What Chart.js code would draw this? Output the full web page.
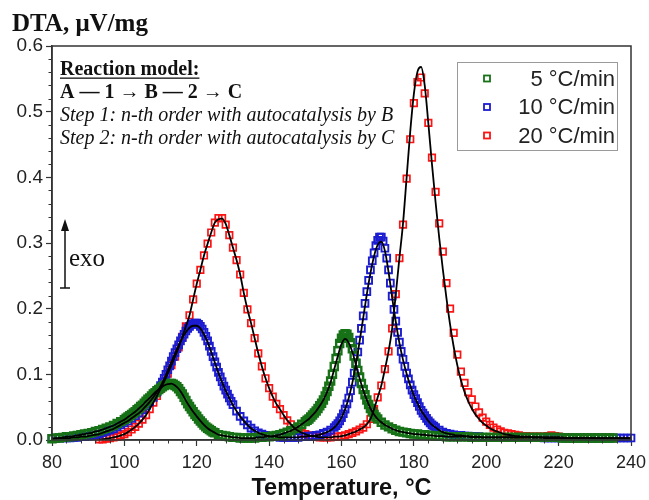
<!DOCTYPE html>
<html>
<head>
<meta charset="utf-8">
<script src="https://cdn.jsdelivr.net/npm/chart.js@4.4.1/dist/chart.umd.min.js"></script>
<style>
  html, body { margin: 0; padding: 0; background: #fff; }
  #wrap { width: 649px; height: 500px; }
</style>
</head>
<body>
<div id="wrap"><canvas id="dtaChart"></canvas></div>
<script>
// Temperature grid for the fitted curves (deg C)
const fitT = [
  80, 81, 82, 83, 84, 85, 86, 87, 88, 89,
  90, 91, 92, 93, 94, 95, 96, 97, 98, 99,
  100, 101, 102, 103, 104, 105, 106, 107, 108, 109,
  110, 111, 112, 113, 114, 115, 116, 117, 118, 119,
  120, 121, 122, 123, 124, 125, 126, 127, 128, 129,
  130, 131, 132, 133, 134, 135, 136, 137, 138, 139,
  140, 141, 142, 143, 144, 145, 146, 147, 148, 149,
  150, 151, 152, 153, 154, 155, 156, 157, 158, 159,
  160, 161, 162, 163, 164, 165, 166, 167, 168, 169,
  170, 171, 172, 173, 174, 175, 176, 177, 178, 179,
  180, 181, 182, 183, 184, 185, 186, 187, 188, 189,
  190, 191, 192, 193, 194, 195, 196, 197, 198, 199,
  200, 201, 202, 203, 204, 205, 206, 207, 208, 209,
  210, 211, 212, 213, 214, 215, 216, 217, 218, 219,
  220, 221, 222, 223, 224, 225, 226, 227, 228, 229,
  230, 231, 232, 233, 234, 235, 236, 237, 238, 239,
  240
];

// 5 C/min measured points
const greenT = [
  80, 81, 82, 83, 84, 85, 86, 87, 88, 89,
  90, 91, 92, 93, 94, 95, 96, 97, 98, 99,
  100, 100.5, 101, 101.5, 102, 102.5, 103, 103.5, 104, 104.5,
  105, 105.5, 106, 106.5, 107, 107.5, 108, 108.5, 109, 109.5,
  110, 110.5, 111, 111.5, 112, 112.5, 113, 113.5, 114, 114.5,
  115, 115.5, 116, 116.5, 117, 117.5, 118, 118.5, 119, 119.5,
  120, 120.5, 121, 121.5, 122, 122.5, 123, 123.5, 124, 124.5,
  125,
  126, 127, 128, 129, 130, 131, 132, 133, 134, 135,
  136, 137, 138, 139, 140, 141, 142, 143, 144, 145,
  146, 147, 148, 149, 150,
  150.5, 151, 151.5, 152, 152.5, 153, 153.5, 154, 154.5, 155,
  155.5, 156, 156.5, 157, 157.5, 158, 158.5, 159, 159.5, 160,
  160.5, 161, 161.5, 162, 162.5, 163, 163.5, 164, 164.5, 165,
  165.5, 166, 166.5, 167, 167.5, 168, 168.5, 169, 169.5, 170,
  171, 172, 173, 174, 175, 176, 177, 178, 179, 180,
  181, 182, 183, 184, 185, 186, 187, 188, 189, 190,
  191, 192, 193, 194, 195, 196, 197, 198, 199, 200,
  201, 202, 203, 204, 205, 206, 207, 208, 209, 210,
  211, 212, 213, 214, 215, 216, 217, 218, 219, 220,
  221, 222, 223, 224, 225, 226, 227, 228, 229, 230,
  231, 232, 233, 234, 235
];
const greenV = [
  0.002, 0.003, 0.003, 0.004, 0.005, 0.005, 0.006, 0.007, 0.008, 0.009,
  0.010, 0.011, 0.013, 0.014, 0.016, 0.018, 0.020, 0.022, 0.025, 0.028,
  0.031, 0.033, 0.035, 0.037, 0.039, 0.041, 0.043, 0.046, 0.048, 0.051,
  0.053, 0.056, 0.059, 0.062, 0.064, 0.067, 0.070, 0.072, 0.075, 0.077,
  0.079, 0.081, 0.083, 0.084, 0.085, 0.086, 0.086, 0.085, 0.083, 0.081,
  0.078, 0.074, 0.070, 0.065, 0.060, 0.055, 0.051, 0.047, 0.043, 0.039,
  0.036, 0.032, 0.029, 0.026, 0.023, 0.020, 0.018, 0.016, 0.014, 0.012,
  0.011,
  0.008, 0.007, 0.006, 0.005, 0.004, 0.004, 0.003, 0.003, 0.003, 0.003,
  0.003, 0.004, 0.004, 0.005, 0.005, 0.006, 0.007, 0.008, 0.010, 0.012,
  0.014, 0.017, 0.020, 0.024, 0.028,
  0.030, 0.032, 0.035, 0.038, 0.041, 0.044, 0.048, 0.052, 0.056, 0.061,
  0.067, 0.074, 0.082, 0.090, 0.100, 0.112, 0.124, 0.136, 0.147, 0.155,
  0.160, 0.162, 0.161, 0.156, 0.148, 0.139, 0.128, 0.117, 0.106, 0.096,
  0.086, 0.077, 0.069, 0.061, 0.054, 0.048, 0.043, 0.039, 0.035, 0.032,
  0.027, 0.023, 0.020, 0.017, 0.015, 0.013, 0.012, 0.011, 0.010, 0.009,
  0.009, 0.008, 0.008, 0.007, 0.007, 0.006, 0.006, 0.006, 0.005, 0.005,
  0.005, 0.005, 0.005, 0.005, 0.005, 0.004, 0.004, 0.004, 0.004, 0.004,
  0.004, 0.004, 0.004, 0.004, 0.004, 0.004, 0.004, 0.004, 0.004, 0.004,
  0.004, 0.004, 0.004, 0.004, 0.004, 0.004, 0.004, 0.004, 0.004, 0.004,
  0.003, 0.003, 0.003, 0.003, 0.003, 0.003, 0.003, 0.003, 0.003, 0.003,
  0.003, 0.003, 0.003, 0.003, 0.003
];

// 10 C/min measured points
const blueT = [
  80, 81, 82, 83, 84, 85, 86, 87, 88, 89,
  90, 91, 92, 93, 94, 95, 96, 97, 98, 99,
  100, 101, 102, 103, 104, 105, 106, 107, 108, 109,
  110, 110.5, 111, 111.5, 112, 112.5, 113, 113.5, 114, 114.5,
  115, 115.5, 116, 116.5, 117, 117.5, 118, 118.5, 119, 119.5,
  120, 120.5, 121, 121.5, 122, 122.5, 123, 123.5, 124, 124.5,
  125, 125.5, 126, 126.5, 127, 127.5, 128, 128.5, 129, 129.5,
  130,
  131, 132, 133, 134, 135, 136, 137, 138, 139, 140,
  141, 142, 143, 144, 145, 146, 147, 148, 149, 150,
  151, 152, 153, 154, 155, 156, 157,
  158, 158.5, 159, 159.5, 160, 160.5, 161, 161.5, 162, 162.5,
  163, 163.5, 164, 164.5, 165, 165.5, 166, 166.5, 167, 167.5,
  168, 168.5, 169, 169.5, 170, 170.5, 171, 171.5, 172, 172.5,
  173, 173.5, 174, 174.5, 175, 175.5, 176, 176.5, 177, 177.5,
  178, 178.5, 179, 179.5, 180, 180.5, 181, 181.5, 182, 182.5,
  183, 183.5, 184, 184.5, 185, 185.5, 186,
  187, 188, 189, 190, 191, 192, 193, 194, 195, 196,
  197, 198, 199, 200, 201, 202, 203, 204, 205, 206,
  207, 208, 209, 210, 211, 212, 213, 214, 215, 216,
  217, 218, 219, 220, 221, 222, 223, 224, 225, 226,
  227, 228, 229, 230, 231, 232, 233, 234, 235, 236,
  237, 238, 239, 240
];
const blueV = [
  0.002, 0.002, 0.003, 0.003, 0.003, 0.003, 0.004, 0.004, 0.005, 0.005,
  0.006, 0.007, 0.008, 0.009, 0.011, 0.013, 0.015, 0.017, 0.020, 0.023,
  0.026, 0.029, 0.033, 0.037, 0.041, 0.046, 0.052, 0.058, 0.065, 0.073,
  0.083, 0.088, 0.094, 0.100, 0.107, 0.113, 0.120, 0.127, 0.133, 0.139,
  0.145, 0.151, 0.156, 0.161, 0.166, 0.170, 0.173, 0.176, 0.177, 0.178,
  0.178, 0.176, 0.173, 0.169, 0.164, 0.158, 0.151, 0.143, 0.135, 0.127,
  0.119, 0.111, 0.103, 0.096, 0.089, 0.082, 0.076, 0.070, 0.064, 0.059,
  0.054,
  0.044, 0.036, 0.029, 0.023, 0.018, 0.014, 0.011, 0.009, 0.007, 0.006,
  0.005, 0.005, 0.004, 0.004, 0.004, 0.004, 0.004, 0.004, 0.005, 0.005,
  0.006, 0.006, 0.007, 0.008, 0.010, 0.012, 0.015,
  0.019, 0.022, 0.025, 0.029, 0.034, 0.040, 0.047, 0.055, 0.064, 0.075,
  0.088, 0.102, 0.117, 0.134, 0.152, 0.170, 0.189, 0.208, 0.226, 0.243,
  0.259, 0.273, 0.285, 0.296, 0.304, 0.309, 0.309, 0.303, 0.292, 0.277,
  0.259, 0.239, 0.219, 0.199, 0.181, 0.164, 0.149, 0.135, 0.123, 0.112,
  0.102, 0.093, 0.084, 0.076, 0.069, 0.063, 0.057, 0.051, 0.045, 0.041,
  0.037, 0.033, 0.029, 0.026, 0.023, 0.021, 0.019,
  0.015, 0.012, 0.010, 0.009, 0.008, 0.007, 0.007, 0.006, 0.006, 0.005,
  0.005, 0.005, 0.004, 0.004, 0.004, 0.004, 0.004, 0.004, 0.004, 0.004,
  0.004, 0.004, 0.004, 0.004, 0.004, 0.004, 0.004, 0.004, 0.004, 0.003,
  0.003, 0.003, 0.003, 0.003, 0.003, 0.003, 0.003, 0.003, 0.003, 0.003,
  0.003, 0.003, 0.003, 0.003, 0.003, 0.003, 0.003, 0.003, 0.003, 0.003,
  0.003, 0.003, 0.003, 0.003
];

// 20 C/min measured points, on the fitT grid (null = no reading)
const redV = [
  null, null, null, null, null, null, null, null, null, null,
  null, null, null, 0.001, 0.001, 0.002, 0.003, 0.004, 0.005, 0.007,
  0.009, 0.012, 0.016, 0.020, 0.025, 0.031, 0.038, 0.047, 0.057, 0.067,
  0.078, 0.089, 0.101, 0.114, 0.127, 0.141, 0.157, 0.173, 0.190, 0.214,
  0.238, 0.259, 0.281, 0.299, 0.316, 0.331, 0.338, 0.338, 0.328, 0.312,
  0.293, 0.274, 0.252, 0.224, 0.199, 0.178, 0.155, 0.132, 0.112, 0.094,
  0.079, 0.066, 0.055, 0.047, 0.038, 0.030, 0.024, 0.018, 0.014, 0.011,
  0.009, 0.007, 0.006, 0.005, 0.004, 0.004, 0.004, 0.004, 0.005, 0.005,
  0.006, 0.007, 0.009, 0.011, 0.013, 0.016, 0.019, 0.024, 0.032, 0.047,
  0.065, 0.083, 0.108, 0.135, 0.170, 0.222, 0.277, 0.328, 0.398, 0.458,
  0.513, 0.545, 0.552, 0.528, 0.483, 0.430, 0.378, 0.330, 0.287, 0.239,
  0.200, 0.163, 0.130, 0.104, 0.087, 0.073, 0.062, 0.051, 0.042, 0.034,
  0.028, 0.023, 0.019, 0.016, 0.013, 0.011, 0.010, 0.009, 0.008, 0.007,
  0.006, 0.006, 0.005, 0.005, 0.005, 0.005, 0.005, 0.006, 0.007, 0.006,
  0.005, 0.004, 0.004, 0.004, 0.003, 0.003, 0.003, 0.003, 0.003, 0.003,
  0.003, null, null, null, null, null, null, null, null, null,
  null
];

// Model fits (black lines), on the fitT grid
const greenFit = [
  0.002, 0.003, 0.003, 0.004, 0.005, 0.005, 0.006, 0.007, 0.008, 0.009,
  0.010, 0.011, 0.013, 0.014, 0.016, 0.018, 0.020, 0.022, 0.025, 0.028,
  0.031, 0.035, 0.039, 0.043, 0.048, 0.053, 0.059, 0.064, 0.070, 0.075,
  0.079, 0.083, 0.085, 0.086, 0.083, 0.078, 0.070, 0.060, 0.051, 0.043,
  0.036, 0.029, 0.023, 0.018, 0.014, 0.011, 0.008, 0.007, 0.006, 0.005,
  0.004, 0.004, 0.003, 0.003, 0.003, 0.003, 0.003, 0.004, 0.004, 0.005,
  0.005, 0.006, 0.007, 0.008, 0.010, 0.012, 0.014, 0.017, 0.020, 0.024,
  0.028, 0.032, 0.038, 0.044, 0.052, 0.061, 0.073, 0.088, 0.108, 0.128,
  0.146, 0.154, 0.148, 0.134, 0.114, 0.094, 0.076, 0.061, 0.048, 0.039,
  0.032, 0.027, 0.023, 0.020, 0.017, 0.015, 0.013, 0.012, 0.011, 0.010,
  0.009, 0.009, 0.008, 0.008, 0.007, 0.007, 0.006, 0.006, 0.006, 0.005,
  0.005, 0.005, 0.005, 0.005, 0.005, 0.005, 0.004, 0.004, 0.004, 0.004,
  0.004, 0.004, 0.004, 0.004, 0.004, 0.004, 0.004, 0.004, 0.004, 0.004,
  0.004, 0.004, 0.004, 0.004, 0.004, 0.004, 0.004, 0.004, 0.004, 0.004,
  0.004, 0.003, 0.003, 0.003, 0.003, 0.003, 0.003, 0.003, 0.003, 0.003,
  0.003, 0.003, 0.003, 0.003, 0.003, 0.003, 0.003, 0.003, 0.003, 0.003,
  0.003
];
const blueFit = [
  0.002, 0.002, 0.003, 0.003, 0.003, 0.003, 0.004, 0.004, 0.005, 0.005,
  0.006, 0.007, 0.008, 0.009, 0.011, 0.013, 0.015, 0.017, 0.020, 0.023,
  0.026, 0.029, 0.033, 0.037, 0.041, 0.046, 0.052, 0.058, 0.065, 0.073,
  0.082, 0.093, 0.106, 0.119, 0.132, 0.144, 0.155, 0.164, 0.171, 0.174,
  0.174, 0.170, 0.161, 0.149, 0.134, 0.118, 0.102, 0.088, 0.075, 0.064,
  0.053, 0.044, 0.036, 0.029, 0.023, 0.018, 0.014, 0.011, 0.009, 0.007,
  0.006, 0.005, 0.005, 0.004, 0.004, 0.004, 0.004, 0.004, 0.004, 0.005,
  0.005, 0.006, 0.006, 0.007, 0.008, 0.010, 0.012, 0.015, 0.019, 0.025,
  0.034, 0.047, 0.064, 0.087, 0.116, 0.150, 0.186, 0.222, 0.254, 0.280,
  0.297, 0.302, 0.288, 0.256, 0.217, 0.180, 0.148, 0.122, 0.101, 0.083,
  0.068, 0.056, 0.045, 0.037, 0.029, 0.023, 0.019, 0.015, 0.012, 0.010,
  0.009, 0.008, 0.007, 0.007, 0.006, 0.006, 0.005, 0.005, 0.005, 0.004,
  0.004, 0.004, 0.004, 0.004, 0.004, 0.004, 0.004, 0.004, 0.004, 0.004,
  0.004, 0.004, 0.004, 0.004, 0.004, 0.004, 0.003, 0.003, 0.003, 0.003,
  0.003, 0.003, 0.003, 0.003, 0.003, 0.003, 0.003, 0.003, 0.003, 0.003,
  0.003, 0.003, 0.003, 0.003, 0.003, 0.003, 0.003, 0.003, 0.003, 0.003,
  0.003
];
const redFit = [
  null, null, null, null, null, null, null, null, null, null,
  null, null, null, 0.001, 0.001, 0.002, 0.003, 0.004, 0.005, 0.007,
  0.009, 0.012, 0.016, 0.020, 0.025, 0.031, 0.038, 0.047, 0.057, 0.067,
  0.078, 0.089, 0.101, 0.114, 0.127, 0.141, 0.157, 0.173, 0.190, 0.214,
  0.238, 0.259, 0.281, 0.299, 0.316, 0.331, 0.336, 0.337, 0.329, 0.312,
  0.293, 0.274, 0.252, 0.224, 0.199, 0.178, 0.155, 0.132, 0.112, 0.094,
  0.079, 0.066, 0.055, 0.047, 0.038, 0.030, 0.024, 0.018, 0.014, 0.011,
  0.009, 0.007, 0.006, 0.005, 0.004, 0.004, 0.004, 0.004, 0.005, 0.005,
  0.006, 0.007, 0.009, 0.011, 0.013, 0.016, 0.019, 0.024, 0.032, 0.047,
  0.065, 0.083, 0.108, 0.135, 0.170, 0.222, 0.277, 0.330, 0.400, 0.470,
  0.527, 0.561, 0.568, 0.540, 0.482, 0.420, 0.362, 0.308, 0.260, 0.216,
  0.176, 0.142, 0.114, 0.091, 0.073, 0.059, 0.048, 0.039, 0.032, 0.026,
  0.022, 0.018, 0.015, 0.013, 0.011, 0.009, 0.008, 0.007, 0.006, 0.006,
  0.005, 0.005, 0.005, 0.004, 0.004, 0.004, 0.004, 0.004, 0.004, 0.004,
  0.004, 0.004, 0.003, 0.003, 0.003, 0.003, 0.003, 0.003, 0.003, 0.003,
  0.003, null, null, null, null, null, null, null, null, null,
  null
];

const seriesLabels = ['5 \u00B0C/min', '10 \u00B0C/min', '20 \u00B0C/min'];
const seriesColors = ['#177217', '#1c1cd0', '#fa1414'];

const SANS = "'Liberation Sans', Arial, sans-serif";
const SERIF = "'Liberation Serif', 'Times New Roman', serif";

// pair up x/y arrays, dropping gaps
function toPoints(xs, ys) {
  const out = [];
  xs.forEach((x, i) => {
    if (ys[i] !== null && ys[i] !== undefined) out.push({ x: x, y: ys[i] });
  });
  return out;
}

function markerSet(idx, data, order, radius, width) {
  return {
    label: seriesLabels[idx],
    data: data,
    order: order,
    showLine: false,
    pointStyle: 'rect',
    pointRadius: radius,
    pointHoverRadius: radius,
    pointBorderWidth: width,
    pointBorderColor: seriesColors[idx],
    pointBackgroundColor: 'rgba(0,0,0,0)',
    clip: 8
  };
}

function fitSet(data) {
  return {
    label: 'fit',
    data: data,
    order: 0,
    borderColor: '#000',
    borderWidth: 1.8,
    pointRadius: 0,
    fill: false,
    cubicInterpolationMode: 'monotone'
  };
}

// plot frame
const frameBox = {
  id: 'frameBox',
  afterDraw(chart) {
    const { ctx, chartArea: a } = chart;
    ctx.save();
    ctx.strokeStyle = '#333';
    ctx.lineWidth = 1.5;
    ctx.strokeRect(a.left, a.top, a.right - a.left, a.bottom - a.top);
    ctx.restore();
  }
};

// small ticks between the labelled ones
const minorTicks = {
  id: 'minorTicks',
  afterDraw(chart) {
    const { ctx, chartArea: a, scales } = chart;
    ctx.save();
    ctx.strokeStyle = '#333';
    ctx.lineWidth = 1;
    for (let i = 0; i <= 30; i++) {
      if (i % 5 === 0) continue;
      const y = Math.round(scales.y.getPixelForValue(i * 0.02)) + 0.5;
      ctx.beginPath();
      ctx.moveTo(a.left - 3.5, y);
      ctx.lineTo(a.left, y);
      ctx.stroke();
    }
    for (let t = 80; t <= 240; t += 4) {
      if (t % 20 === 0) continue;
      const x = Math.round(scales.x.getPixelForValue(t)) + 0.5;
      ctx.beginPath();
      ctx.moveTo(x, a.bottom);
      ctx.lineTo(x, a.bottom + 3.5);
      ctx.stroke();
    }
    ctx.restore();
  }
};

// texts, arrow and legend box
const notes = {
  id: 'notes',
  afterDraw(chart) {
    const ctx = chart.ctx;
    ctx.save();
    ctx.fillStyle = '#111';
    ctx.textAlign = 'left';
    ctx.textBaseline = 'alphabetic';

    ctx.font = 'bold 25px ' + SERIF;
    ctx.fillText('DTA, \u03BCV/mg', 12, 31);

    ctx.font = 'bold 20px ' + SERIF;
    const head = 'Reaction model:';
    ctx.fillText(head, 60, 75);
    const w = ctx.measureText(head).width;
    ctx.fillRect(60, 77.5, w, 1.3);

    ctx.fillText('A \u2014 1 \u2192 B \u2014 2 \u2192 C', 60, 98);

    ctx.font = 'italic 20px ' + SERIF;
    ctx.fillText('Step 1: n-th order with autocatalysis by B', 60, 121);
    ctx.fillText('Step 2: n-th order with autocatalysis by C', 60, 144);

    // exo arrow
    ctx.strokeStyle = '#111';
    ctx.lineWidth = 1.5;
    ctx.beginPath();
    ctx.moveTo(65, 228);
    ctx.lineTo(65, 288);
    ctx.moveTo(60, 288);
    ctx.lineTo(70, 288);
    ctx.stroke();
    ctx.beginPath();
    ctx.moveTo(65, 219);
    ctx.lineTo(61, 231);
    ctx.lineTo(69, 231);
    ctx.closePath();
    ctx.fill();
    ctx.font = '25px ' + SERIF;
    ctx.fillText('exo', 69, 266);

    // legend
    ctx.fillStyle = '#fff';
    ctx.fillRect(458, 63, 160, 87);
    ctx.strokeStyle = '#9a9a9a';
    ctx.lineWidth = 1;
    ctx.strokeRect(457.5, 62.5, 160, 88);
    ctx.font = '22px ' + SANS;
    ctx.textAlign = 'right';
    ctx.textBaseline = 'middle';
    const rows = [78.5, 107, 135.5];
    seriesLabels.forEach((lab, i) => {
      ctx.strokeStyle = seriesColors[i];
      ctx.lineWidth = 1.8;
      ctx.strokeRect(484, rows[i] - 3, 6, 6);
      ctx.fillStyle = '#222';
      ctx.fillText(lab, 615, rows[i] + 1);
    });
    ctx.restore();
  }
};

Chart.defaults.font.family = SANS;
Chart.defaults.color = '#222';

new Chart(document.getElementById('dtaChart'), {
  type: 'line',
  data: {
    datasets: [
      fitSet(toPoints(fitT, greenFit)),
      fitSet(toPoints(fitT, blueFit)),
      fitSet(toPoints(fitT, redFit)),
      markerSet(0, toPoints(greenT, greenV), 1, 5, 2.4),
      markerSet(1, toPoints(blueT, blueV), 2, 4.8, 1.9),
      markerSet(2, toPoints(fitT, redV), 3, 4.6, 1.7)
    ]
  },
  options: {
    responsive: true,
    maintainAspectRatio: false,
    animation: false,
    devicePixelRatio: 1,
    layout: { padding: { top: 46, right: 18, left: 0, bottom: 0 } },
    plugins: {
      legend: { display: false },
      tooltip: { enabled: false }
    },
    scales: {
      x: {
        type: 'linear',
        min: 80,
        max: 240,
        afterFit(scale) {
          scale.height = 60;
          scale.paddingLeft = 0;
          scale.paddingRight = 0;
        },
        ticks: { stepSize: 20, font: { size: 18 }, color: '#222', padding: 6, maxRotation: 0 },
        grid: { drawOnChartArea: false, drawTicks: true, tickLength: 6, color: '#333', tickWidth: 1.2 },
        border: { color: '#333', width: 1.5 },
        title: {
          display: true,
          text: 'Temperature, \u00B0C',
          font: { size: 23.5, weight: 'bold', lineHeight: 1.0 },
          color: '#111',
          padding: { top: 0, bottom: 0 }
        }
      },
      y: {
        type: 'linear',
        min: 0,
        max: 0.6,
        afterFit(scale) {
          scale.width = 52;
          scale.paddingTop = 0;
          scale.paddingBottom = 0;
        },
        ticks: {
          stepSize: 0.1,
          font: { size: 19 },
          color: '#222',
          padding: 3,
          callback: (v) => v.toFixed(1)
        },
        grid: { drawOnChartArea: false, drawTicks: true, tickLength: 6, color: '#333', tickWidth: 1.2 },
        border: { color: '#333', width: 1.5 }
      }
    }
  },
  plugins: [frameBox, minorTicks, notes]
});
</script>
</body>
</html>
